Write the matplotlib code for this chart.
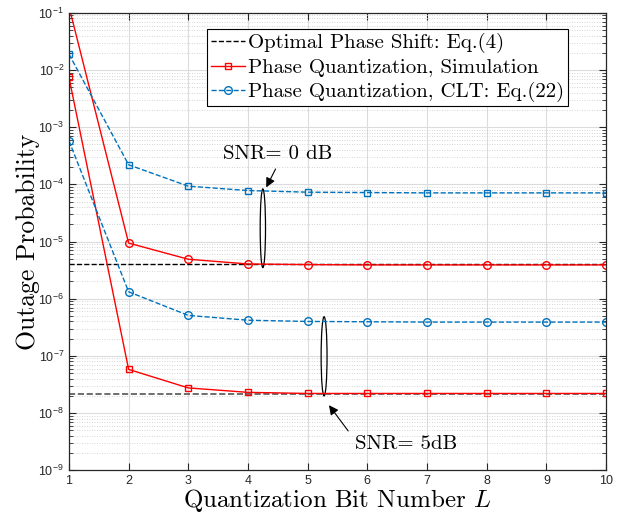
import matplotlib
matplotlib.use("Agg")
import matplotlib.pyplot as plt
from matplotlib.patches import Ellipse
from matplotlib.ticker import LogLocator, NullFormatter
import numpy as np

plt.rcParams['mathtext.fontset'] = 'custom'
plt.rcParams['mathtext.rm'] = 'Liberation Sans'
plt.rcParams['mathtext.it'] = 'cmmi10'
plt.rcParams['font.family'] = ['Liberation Sans', 'DejaVu Sans']
plt.rcParams['axes.unicode_minus'] = True

# data
L = [1, 2, 3, 4, 5, 6, 7, 8, 9, 10]
opt_0dB = [4.1e-6] * 10
sim_0dB = [1.3e-1, 9.4e-6, 4.9e-6, 4.05e-6, 3.95e-6, 3.9e-6, 3.9e-6, 3.9e-6, 3.9e-6, 3.9e-6]
clt_0dB = [1.9e-2, 2.2e-4, 9.3e-5, 7.8e-5, 7.3e-5, 7.2e-5, 7.1e-5, 7.1e-5, 7.1e-5, 7.1e-5]
opt_5dB = [2.15e-8] * 10
sim_5dB = [7.5e-3, 5.8e-8, 2.75e-8, 2.3e-8, 2.2e-8, 2.2e-8, 2.2e-8, 2.2e-8, 2.2e-8, 2.2e-8]
clt_5dB = [5.8e-4, 1.32e-6, 5.1e-7, 4.2e-7, 4.0e-7, 3.95e-7, 3.9e-7, 3.9e-7, 3.9e-7, 3.9e-7]

red = '#FF0000'
blue = '#0072BD'
cm = 'cmr10'

fig = plt.figure(figsize=(6.21, 5.15), dpi=100)
ax = fig.add_axes([0.111, 0.087, 0.865, 0.888])

ax.plot(L, opt_0dB, '--', color='k', lw=1.0, label='Optimal Phase Shift: Eq.(4)')
ax.plot(L, opt_5dB, '--', color='#555555', lw=1.2)
ax.plot(L, sim_5dB, '-', color=red, lw=1.0, marker='s', ms=5, mfc='none',
        label='Phase Quantization, Simulation')
ax.plot(L, sim_0dB, '-', color=red, lw=1.0, marker='o', ms=5.5, mfc='none')
ax.plot(L, clt_5dB, '--', color=blue, lw=1.0, marker='o', ms=5.5, mfc='none',
        label='Phase Quantization, CLT: Eq.(22)')
ax.plot(L, clt_0dB, '--', color=blue, lw=1.0, marker='s', ms=5, mfc='none')

ax.set_yscale('log')
ax.set_xlim(1, 10)
ax.set_ylim(1e-9, 1e-1)
ax.set_xticks(L)
ax.yaxis.set_major_locator(LogLocator(base=10, numticks=20))
ax.yaxis.set_minor_locator(LogLocator(base=10, subs=np.arange(2, 10), numticks=100))
ax.yaxis.set_minor_formatter(NullFormatter())

ax.grid(True, which='major', color='#dcdcdc', lw=0.8, ls='-')
ax.grid(True, which='minor', axis='y', color='#c8c8c8', lw=0.6, ls=(0, (1, 2)))
ax.set_axisbelow(True)
ax.tick_params(which='both', direction='in', top=True, right=True, labelsize=9,
               color='#262626', labelcolor='#262626')
ax.tick_params(which='major', length=5)
ax.tick_params(which='minor', length=3)
for s in ax.spines.values():
    s.set_color('#262626')
    s.set_linewidth(0.9)

ax.set_xlabel('Quantization Bit Number $L$', family=cm, fontsize=18, labelpad=0)
ax.set_ylabel('Outage Probability', family=cm, fontsize=18.5, labelpad=-1)

leg = ax.legend(loc='upper right', bbox_to_anchor=(0.929, 0.965), borderaxespad=0,
                prop={'family': cm, 'size': 15}, fancybox=False, framealpha=1,
                edgecolor='k', handlelength=1.6, handletextpad=0.15, borderpad=0.2,
                labelspacing=0.25)
leg.get_frame().set_linewidth(0.8)

# annotations
ax.add_patch(Ellipse((0.361, 0.529), 0.0099, 0.172, transform=ax.transAxes,
                     fill=False, ec='k', lw=0.9))
ax.add_patch(Ellipse((0.475, 0.249), 0.011, 0.173, transform=ax.transAxes,
                     fill=False, ec='k', lw=0.9))
ax.annotate('', xy=(0.365, 0.613), xytext=(0.387, 0.664), xycoords='axes fraction',
            arrowprops=dict(arrowstyle='-|>', color='k', lw=0.8, mutation_scale=14))
ax.text(0.389, 0.691, 'SNR= 0 dB', transform=ax.transAxes, family=cm, fontsize=15,
        ha='center', va='center')
ax.annotate('', xy=(0.481, 0.147), xytext=(0.523, 0.081), xycoords='axes fraction',
            arrowprops=dict(arrowstyle='-|>', color='k', lw=0.8, mutation_scale=14))
ax.text(0.628, 0.057, 'SNR= 5dB', transform=ax.transAxes, family=cm, fontsize=15,
        ha='center', va='center')

fig.savefig('out.png', dpi=100)
